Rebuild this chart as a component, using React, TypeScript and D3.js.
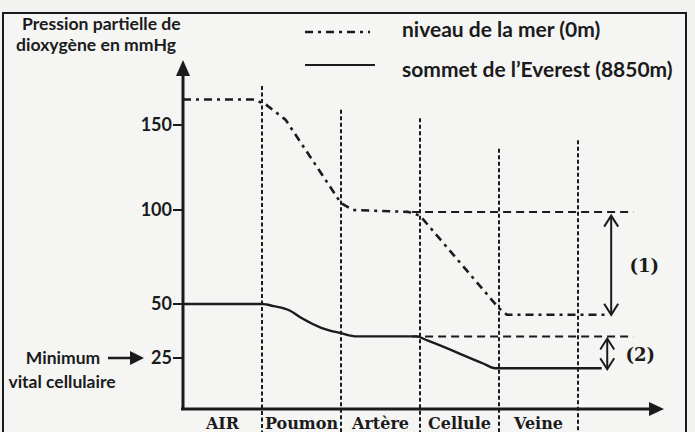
import React from "react";
import * as d3 from "d3";

// compartments along the x axis
const compartments = ["AIR", "Poumon", "Artère", "Cellule", "Veine"];
const yTicks = [25, 50, 100, 150];

// niveau de la mer : position (in compartments) and pO2 (mmHg)
const seaPos = [0, 0.9, 1.05, 1.3, 2.0, 2.15, 2.85, 3.0, 4.0, 4.1, 5.35];
const seaVal = [165, 165, 162, 153, 104, 100, 99, 97, 48, 45, 45];

// sommet de l'Everest
const everestPos = [0, 1.0, 1.15, 1.35, 1.5, 1.75, 2.0, 2.2, 2.95, 3.1, 3.8, 3.95, 5.3];
const everestVal = [50, 50, 49, 47, 43.5, 39, 36.5, 35, 35, 33, 22.3, 20, 20];

// dashed reference levels (arterial values), drawn from / to
const refLevels = [99, 35];
const refFrom = 2.9;
const refTo = 5.7;

// drop arrows (1) and (2)
const dropLabels = ["(1)", "(2)"];
const dropPos = [5.42, 5.37];
const dropFrom = [97, 34];
const dropTo = [45, 19.5];

// top of each dashed divider, in mmHg
const dividerTop = [173, 159, 154, 136, 141];

const ink = "#1b1b1b";
const sans = "Lato, 'Open Sans', sans-serif";
const serif = "'DejaVu Serif', serif";

const W = 695, H = 432;

export default function App() {
  const x = d3.scaleLinear().domain([0, 5]).range([183, 578]);
  // the hand drawn scale isn't even, so follow its ticks
  const y = d3.scaleLinear().domain([0, 25, 50, 100, 150]).range([409, 358, 304, 210, 125]);

  const seaLine = d3
    .line<[number, number]>()
    .x(d => x(d[0]))
    .y(d => y(d[1]));

  const everestLine = d3
    .line<[number, number]>()
    .x(d => x(d[0]))
    .y(d => y(d[1]))
    .curve(d3.curveMonotoneX);

  const sea = seaLine(seaPos.map((p, i) => [p, seaVal[i]]))!;
  const everest = everestLine(everestPos.map((p, i) => [p, everestVal[i]]))!;

  const axisX = x(0);
  const axisY = y(0);

  const chevron = (cx: number, cy: number, dir: number) =>
    `M${cx - 7},${cy + dir * 11}L${cx},${cy}L${cx + 7},${cy + dir * 11}`;

  return (
    <svg width={W} height={H} style={{ position: "absolute", left: 0, top: 0, background: "#f2f2f1" }}>
      <rect x={3} y={13} width={683} height={430} fill="#f5f5f4" stroke={ink} strokeWidth={2} />

      {/* title */}
      <text x={22} y={30} fontFamily={sans} fontWeight={700} fontSize={17.6} fill={ink}>Pression partielle de</text>
      <text x={16} y={51} fontFamily={sans} fontWeight={700} fontSize={17.6} fill={ink}>dioxygène en mmHg</text>

      {/* legend */}
      <line x1={305} x2={370} y1={32} y2={32} stroke={ink} strokeWidth={2.5} strokeDasharray="8 5 3 5" />
      <line x1={305} x2={375} y1={65} y2={65} stroke={ink} strokeWidth={2} />
      <text x={402} y={37} fontFamily={sans} fontWeight={700} fontSize={21} fill={ink}>niveau de la mer (0m)</text>
      <text x={402} y={77} fontFamily={sans} fontWeight={700} fontSize={21} fill={ink}>sommet de l’Everest (8850m)</text>

      {/* dividers */}
      {dividerTop.map((t, i) => (
        <line key={i} x1={x(i + 1)} x2={x(i + 1)} y1={y(t)} y2={H} stroke={ink} strokeWidth={2} strokeDasharray="4 2.5" />
      ))}

      {/* reference levels */}
      {refLevels.map((v, i) => (
        <line key={i} x1={x(refFrom)} x2={x(refTo)} y1={y(v)} y2={y(v)} stroke={ink} strokeWidth={2} strokeDasharray="8 5" />
      ))}

      {/* curves */}
      <path d={sea} fill="none" stroke={ink} strokeWidth={2.6} strokeDasharray="8 5 3 5" strokeLinejoin="round" />
      <path d={everest} fill="none" stroke={ink} strokeWidth={2.4} />

      {/* drop arrows */}
      {dropLabels.map((lab, i) => {
        const cx = x(dropPos[i]);
        const y1 = y(dropFrom[i]);
        const y2 = y(dropTo[i]);
        return (
          <g key={lab} stroke={ink} strokeWidth={2} fill="none">
            <line x1={cx} x2={cx} y1={y1} y2={y2} />
            <path d={chevron(cx, y1, 1)} />
            <path d={chevron(cx, y2, -1)} />
            <text x={cx + 33} y={(y1 + y2) / 2 + 7} stroke="none" fill={ink} textAnchor="middle"
              fontFamily={serif} fontWeight={700} fontSize={18}>{lab}</text>
          </g>
        );
      })}

      {/* y axis */}
      <line x1={axisX} x2={axisX} y1={axisY + 1} y2={70} stroke={ink} strokeWidth={3} />
      <path d={`M${axisX},60L${axisX + 7},76L${axisX - 7},76Z`} fill={ink} />
      {yTicks.map(t => (
        <g key={t}>
          <line x1={axisX - 10} x2={axisX} y1={y(t)} y2={y(t)} stroke={ink} strokeWidth={2} />
          <text x={axisX - 11} y={y(t)} dy="0.35em" textAnchor="end" fontFamily={sans} fontWeight={700} fontSize={18} fill={ink}>{t}</text>
        </g>
      ))}

      {/* x axis */}
      <line x1={axisX - 2} x2={652} y1={axisY} y2={axisY} stroke={ink} strokeWidth={3} />
      <path d={`M664,${axisY}L649,${axisY - 7}L649,${axisY + 7}Z`} fill={ink} />
      {compartments.map((c, i) => (
        <text key={c} x={x(i + 0.5)} y={429} textAnchor="middle" fontFamily={serif} fontWeight={700} fontSize={16} fill={ink}>{c}</text>
      ))}

      {/* minimum vital */}
      <text x={63} y={364} fontFamily={sans} fontWeight={700} fontSize={17.5} fill={ink} textAnchor="middle">Minimum</text>
      <text x={62} y={388} fontFamily={sans} fontWeight={700} fontSize={17.5} fill={ink} textAnchor="middle">vital cellulaire</text>
      <line x1={108} x2={133} y1={y(25)} y2={y(25)} stroke={ink} strokeWidth={2.5} />
      <path d={`M144,${y(25)}L130,${y(25) - 7}L130,${y(25) + 7}Z`} fill={ink} />
    </svg>
  );
}
